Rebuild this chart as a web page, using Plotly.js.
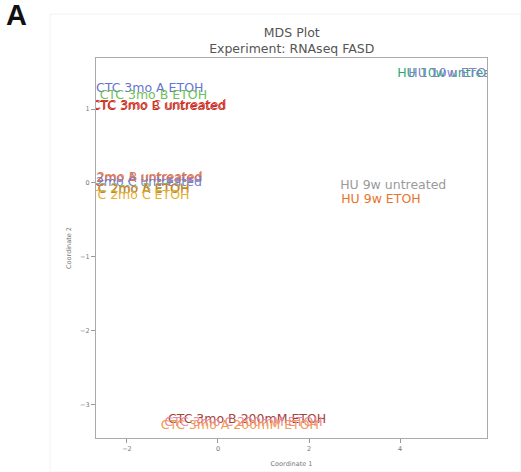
<!DOCTYPE html>
<html>
<head>
<meta charset="utf-8">
<script src="https://cdn.plot.ly/plotly-3.0.1.min.js"></script>
<style>html,body{margin:0;padding:0;background:#fff;}#chart{width:521px;height:472px;}</style>
</head>
<body>
<div id="chart"></div>
<script>
const labels = [
  "CTC 3mo A ETOH", "CTC 3mo B ETOH", "CTC 3mo B untreated", "CTC 3mo C untreated",
  "CTC 2mo A untreated", "CTC 2mo B untreated", "CTC 2mo C untreated", "CTC 2mo B ETOH", "CTC 2mo A ETOH", "CTC 2mo C ETOH",
  "HU 10w untreated", "HU 10w ETOH", "HU 9w untreated", "HU 9w ETOH",
  "CTC 3mo B 200mM ETOH", "CTC 3mo C 200mM ETOH", "CTC 3mo A 200mM ETOH"
];
const coord1 = [
  -1.50, -1.42, -1.31, -1.29,
  -1.83, -1.81, -1.83, -1.80, -1.81, -1.81,
  5.19, 5.14, 3.85, 3.58,
  0.64, 0.56, 0.48
];
const coord2 = [
  1.27, 1.18, 1.03, 1.04,
  0.05, 0.075, 0.0, -0.08, -0.09, -0.17,
  1.47, 1.47, -0.04, -0.23,
  -3.21, -3.24, -3.28
];
const colors = [
  "#6675d0", "#6cbf5a", "#b8302a", "#de3b2e",
  "#9a78cc", "#ec7a30", "#7080d4", "#8cb85a", "#d87a2c", "#e2b02c",
  "#1fa878", "#8a7ed0", "#9a9a9a", "#e8742a",
  "#a0453a", "#ee88a0", "#f39a52"
];
const xTicks = [-2, 0, 2, 4];
const yTicks = [-3, -2, -1, 0, 1];

const trace = {
  type: "scatter",
  mode: "text",
  x: coord1,
  y: coord2,
  text: labels,
  textposition: "middle center",
  textfont: {family: "DejaVu Sans, sans-serif", size: 12.5, color: colors},
  hoverinfo: "text",
  cliponaxis: true,
  showlegend: false
};

const layout = {
  width: 521, height: 472,
  margin: {l: 96, r: 34, t: 58, b: 34},
  paper_bgcolor: "#ffffff",
  plot_bgcolor: "#ffffff",
  font: {family: "DejaVu Sans, sans-serif", color: "#666"},
  title: {
    text: "MDS Plot<br>Experiment: RNAseq FASD",
    font: {family: "DejaVu Sans, sans-serif", size: 12.5, color: "#555"},
    x: 0.56, xanchor: "center", y: 0.922, yanchor: "middle"
  },
  xaxis: {
    range: [-2.68, 5.91],
    tickvals: xTicks,
    ticks: "outside", ticklen: 4, tickcolor: "#999", tickwidth: 1,
    tickfont: {size: 6.5, color: "#777"},
    showgrid: false, zeroline: false,
    showline: true, linecolor: "#aaa", linewidth: 1, mirror: true,
    title: {text: "Coordinate 1", font: {size: 6.5, color: "#777"}, standoff: 9}
  },
  yaxis: {
    range: [-3.45, 1.69],
    tickvals: yTicks,
    ticks: "outside", ticklen: 4, tickcolor: "#999", tickwidth: 1,
    tickfont: {size: 6.5, color: "#777"},
    showgrid: false, zeroline: false,
    showline: true, linecolor: "#aaa", linewidth: 1, mirror: true,
    title: {text: "Coordinate 2", font: {size: 6.5, color: "#777"}, standoff: 7}
  },
  shapes: [{
    type: "rect", xref: "paper", yref: "paper",
    x0: (50 - 96) / 391, x1: (521 - 96) / 391,
    y0: (438 - 472) / 380, y1: (438 - 14) / 380,
    line: {color: "#f2f2f2", width: 1}, layer: "below"
  }],
  annotations: [{
    text: "<b>A</b>", xref: "paper", yref: "paper",
    x: (4 - 96) / 391, y: (438 + 3) / 380,
    xanchor: "left", yanchor: "top", showarrow: false,
    font: {family: "Liberation Sans, Arial, sans-serif", size: 29, color: "#111"}
  }]
};

Plotly.newPlot("chart", [trace], layout, {displayModeBar: false, staticPlot: true});
</script>
</body>
</html>
